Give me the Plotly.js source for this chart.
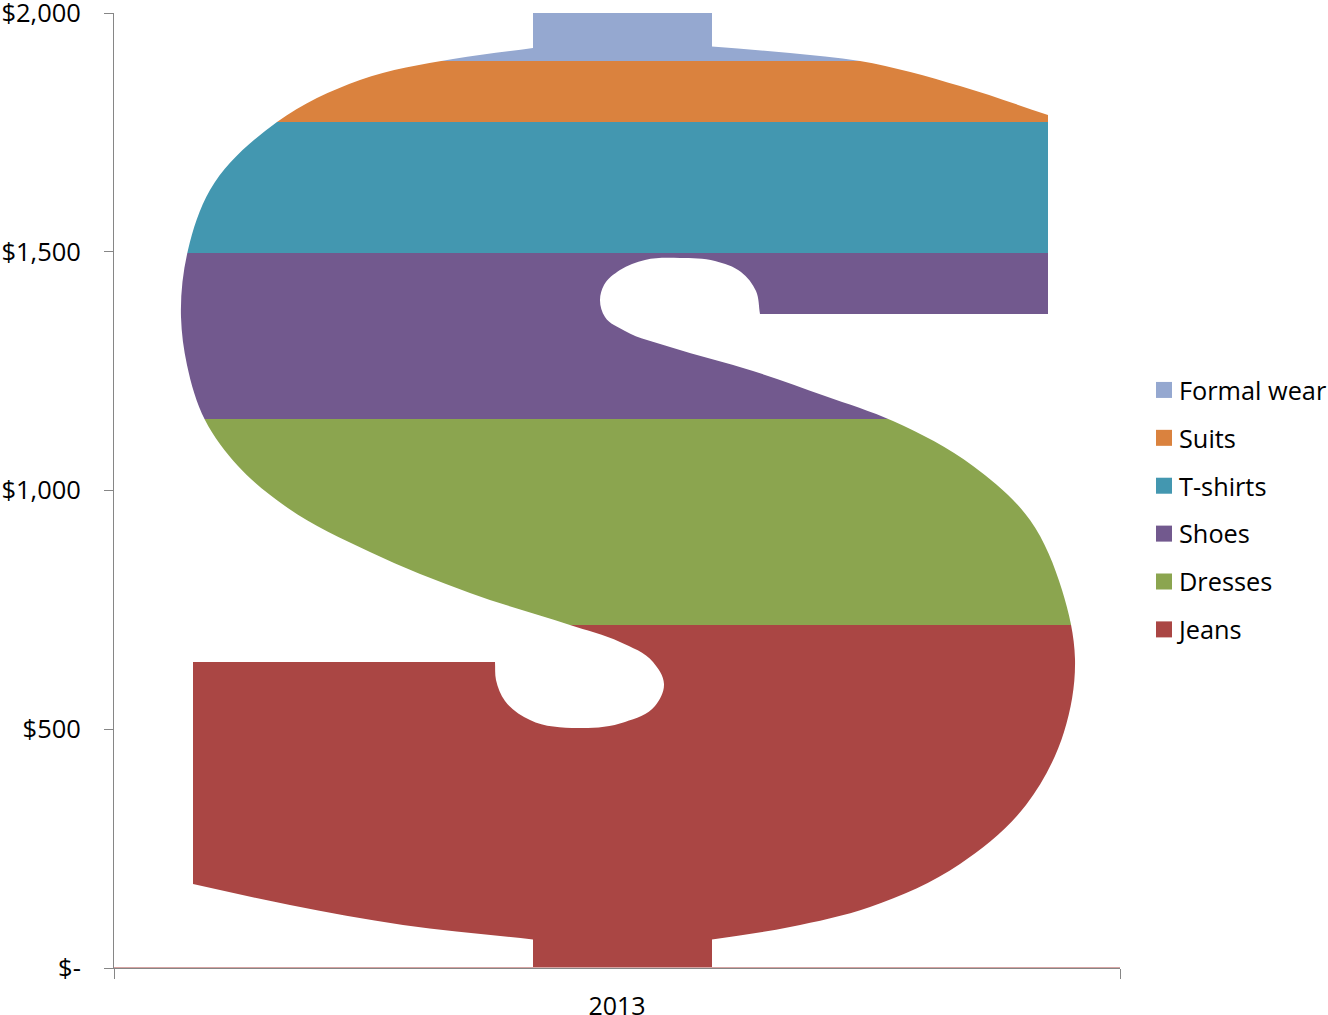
<!DOCTYPE html>
<html><head><meta charset="utf-8">
<script src="https://cdn.plot.ly/plotly-3.0.1.min.js"></script>
<style>html,body{margin:0;padding:0;background:#fff;overflow:hidden}</style>
</head><body><div id="chart" style="width:1328px;height:1015px"></div>
<script>
const categories = ['2013'];
const seriesNames = ['Jeans','Dresses','Shoes','T-shirts','Suits','Formal wear'];
const jeans = [718], dresses = [432], shoes = [347], tshirts = [275], suits = [127], formalWear = [101];
const seriesValues = [jeans,dresses,shoes,tshirts,suits,formalWear];
const seriesColors = ['#AA4644','#8BA54F','#72598E','#4397B0','#DA823E','#95A8D0'];
const yTickVals = [0,500,1000,1500,2000];
const yTickText = ['$-','$500','$1,000','$1,500','$2,000'];

// plot box in page pixels
const L=114,R=1120,T=13,B=968,W=1328,H=1015;
const px=x=>(x-L)/(R-L), py=y=>(B-y)/(B-T);

// Silhouette of the dollar sign that clips the stacked column (picture-fill look). Runs of smooth points joined by straight edges.
const glyphRuns = [
 [[712,46.5],[790,53],[860,61],[960,86],[1048,115]],
 [[1048,115],[1048,314]],
 [[1048,314],[760,314]],
 [[760,314],[756,291],[741,272],[715,261],[680,258],[645,260],[620,270],[604,285],[600,300],[605,317],[625,331],[670,347],[753,371],[825,396],[893,421],[973,466],[1030,520],[1062,590],[1075,659],[1064,732],[1026,805],[960,864],[870,907],[790,927],[712,939.5]],
 [[712,939.5],[712,968]],
 [[712,968],[533,968]],
 [[533,968],[533,939.5]],
 [[533,939.5],[403,925],[290,905],[193,884]],
 [[193,884],[193,662]],
 [[193,662],[495,662]],
 [[495,662],[496,680],[505,701],[530,720],[578,728],[625,722],[655,706],[664,684],[653,662],[620,642],[570,625],[470,593],[370,552],[285,506],[238,466],[205,420],[187,365],[181,317],[188,250],[210,190],[277,122],[360,80],[453,59],[533,48]],
 [[533,48],[533,13]],
 [[533,13],[712,13]],
 [[712,13],[712,46.5]]
];
function f(p){return px(p[0]).toFixed(5)+','+py(p[1]).toFixed(5);}
const dist=(a,b)=>Math.hypot(a[0]-b[0],a[1]-b[1]);
function tangent(r,i){
  if(i===0||i===r.length-1){
    const a=i===0?r[0]:r[i-1],b=i===0?r[1]:r[i],d=dist(a,b)||1;
    return [(b[0]-a[0])/d,(b[1]-a[1])/d];
  }
  const a=r[i-1],m=r[i],b=r[i+1],d1=dist(a,m),d2=dist(m,b);
  const t=[0,1].map(k=>(d2*(m[k]-a[k])/d1+d1*(b[k]-m[k])/d2)/(d1+d2));
  const n=Math.hypot(t[0],t[1])||1;
  return [t[0]/n,t[1]/n];
}
function runPath(r){
  if(r.length===2) return 'L'+f(r[1]);
  let s='';
  for(let i=0;i<r.length-1;i++){
    const p1=r[i],p2=r[i+1],d=dist(p1,p2)/3,t1=tangent(r,i),t2=tangent(r,i+1);
    s+='C'+f([p1[0]+t1[0]*d,p1[1]+t1[1]*d])+' '+f([p2[0]-t2[0]*d,p2[1]-t2[1]*d])+' '+f(p2);
  }
  return s;
}
const maskPath='M'+f([114,8])+'L'+f([1122,8])+'L'+f([1122,967.5])+'L'+f([114,967.5])+'Z '+
  'M'+f(glyphRuns[0][0])+glyphRuns.map(runPath).join('')+'Z';

const traces=seriesNames.map((n,i)=>({
  type:'bar',name:n,x:categories,y:seriesValues[i],legendgroup:n,legendrank:seriesNames.length-i,
  marker:{color:seriesColors[i],line:{width:0}},hoverinfo:'skip'
}));
const FONT='"Open Sans", sans-serif';
const layout={
  width:W,height:H,paper_bgcolor:'#fff',plot_bgcolor:'#fff',
  margin:{l:L,r:W-R,t:T,b:H-B,autoexpand:false},
  barmode:'stack',bargap:0,
  showlegend:true,
  font:{family:FONT,size:25,color:'#000'},
  xaxis:{type:'category',tickson:'boundaries',ticks:'outside',ticklen:10,tickwidth:1,tickcolor:'#868686',
    showline:true,linecolor:'#868686',linewidth:1,showgrid:false,zeroline:false,ticklabelstandoff:16,ticklabeloverflow:'allow',
    tickfont:{family:FONT,size:25,color:'#000'}},
  yaxis:{range:[0,2000],tickmode:'array',tickvals:yTickVals,ticktext:yTickText,ticks:'outside',ticklen:9,tickwidth:1,tickcolor:'#868686',
    showline:true,linecolor:'#868686',linewidth:1,showgrid:false,zeroline:false,ticklabelstandoff:18,ticklabeloverflow:'allow',
    tickfont:{family:FONT,size:25.5,color:'#000'}},
  legend:{x:px(1139),xanchor:'left',y:py(367),yanchor:'top',tracegroupgap:12,traceorder:'grouped',
    font:{family:FONT,size:25.3,color:'#000'},bgcolor:'rgba(0,0,0,0)',borderwidth:0},
  shapes:[{type:'path',xref:'paper',yref:'paper',path:maskPath,fillcolor:'#fff',fillrule:'evenodd',line:{width:0},layer:'above'}]
};
Plotly.newPlot('chart',traces,layout,{staticPlot:true,displayModeBar:false}).then(gd=>{
  gd.querySelectorAll('.legend .legendpoints path').forEach(p=>{p.setAttribute('d','M13,8H-3V-8H13Z');});
});
</script></body></html>
